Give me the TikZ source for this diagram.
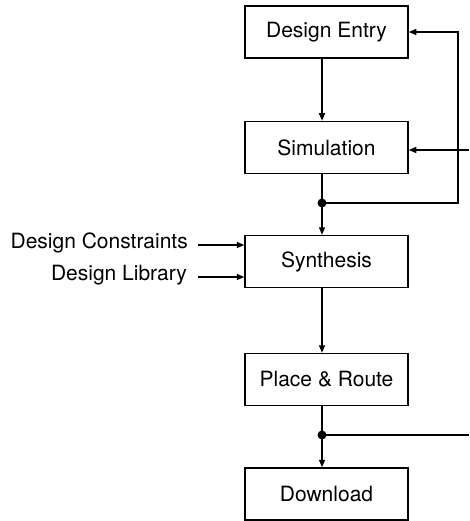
\documentclass[tikz,border=0pt]{standalone}
\usepackage{fontspec}
\setmainfont{TeX Gyre Heros}
\usetikzlibrary{arrows.meta}
\begin{document}
\begin{tikzpicture}[x=1pt,y=-1pt,
  box/.style={draw, line width=1.5pt, minimum width=163pt, minimum height=52pt, inner sep=0pt, font=\fontsize{21}{25}\selectfont},
  conn/.style={line width=1.5pt, -{Triangle[length=7.5pt,width=6pt]}},
  wire/.style={line width=1.5pt},
  lbl/.style={font=\fontsize{21}{25}\selectfont, anchor=base east, inner sep=0pt}]
\useasboundingbox (0,0) rectangle (469,521);
\node[box] (de) at (326.5,32) {Design Entry};
\node[box] (sim) at (326.5,147.5) {Simulation};
\node[box] (syn) at (326.5,261.5) {Synthesis};
\node[box] (pr) at (326.5,379.5) {Place \& Route};
\node[box] (dl) at (326.5,494) {Download};
\node[lbl] (dc) at (188,248) {Design Constraints};
\node[lbl] (dlib) at (187,280) {Design Library};
\coordinate (col) at (322,0);
\coordinate (d1) at (322,203);
\coordinate (d2) at (322,435);
\coordinate (r1) at (458,203);
\coordinate (e1) at (469,150);
\coordinate (e2) at (469,435);
\draw[conn] (de.south -| col) -- (sim.north -| col);
\draw[wire] (sim.south -| col) -- (d1);
\draw[conn] (d1) -- (syn.north -| col);
\draw[conn] (syn.south -| col) -- (pr.north -| col);
\draw[wire] (pr.south -| col) -- (d2);
\draw[conn] (d2) -- (dl.north -| col);
\draw[conn] (d1) -- (r1) |- (de.east);
\draw[conn] (e1) -- (sim.east |- e1);
\draw[wire] (d2) -- (e2);
\draw[conn] (198,245) coordinate (a1) -- (syn.west |- a1);
\draw[conn] (198,277) coordinate (a2) -- (syn.west |- a2);
\fill (d1) circle (4.5);
\fill (d2) circle (4.5);
\end{tikzpicture}
\end{document}
